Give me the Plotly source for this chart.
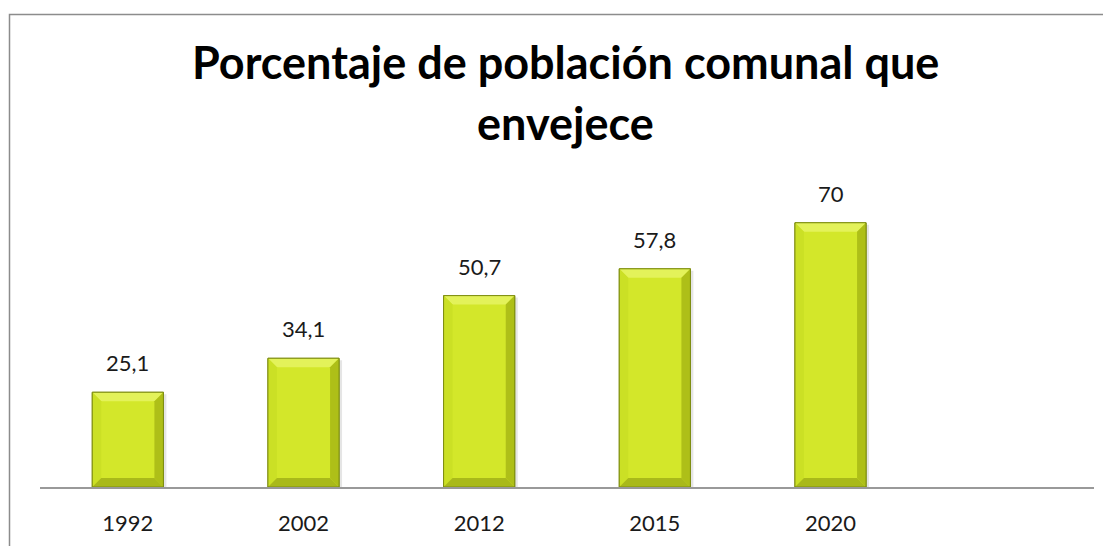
import plotly.graph_objects as go

years = ['1992', '2002', '2012', '2015', '2020']
values = [25.1, 34.1, 50.7, 57.8, 70]
labels = [str(v).replace('.', ',') for v in values]
title_lines = ['Porcentaje de población comunal que', 'envejece']

# the page body adds an 8px margin, so everything is placed 8px up/left
W, H = 1111, 546
ML, MR, MT, MB = 32, 25, 177, 67
X_RANGE = [-0.5, 5.5]
Y_RANGE = [0, 80]
BAR_W = 0.405

PW, PH = W - ML - MR, H - MT - MB
px_x = (X_RANGE[1] - X_RANGE[0]) / PW
px_y = (Y_RANGE[1] - Y_RANGE[0]) / PH
bev = 9
bx, by = bev * px_x, bev * px_y

xs = list(range(len(years)))

fig = go.Figure()
fig.add_trace(go.Bar(
    x=xs, y=values, width=BAR_W,
    marker=dict(color='#d3e72a', line=dict(color='#7d8c12', width=1)),
    hoverinfo='skip', showlegend=False
))

shapes = []
def poly(pts, color):
    path = 'M ' + ' L '.join(f'{a},{b}' for a, b in pts) + ' Z'
    return dict(type='path', path=path, xref='x', yref='y',
                fillcolor=color, line=dict(width=0), layer='above')

for i, v in zip(xs, values):
    l, r = i - BAR_W / 2, i + BAR_W / 2
    # soft shadow
    shapes.append(dict(type='rect', xref='x', yref='y', x0=l + 2 * px_x, x1=r + 3 * px_x,
                       y0=0, y1=v - 2 * px_y, fillcolor='rgba(0,0,0,0.10)',
                       line=dict(width=0), layer='below'))
    shapes.append(poly([(l, v), (r, v), (r - bx, v - by), (l + bx, v - by)], '#e3f25a'))
    shapes.append(poly([(l, v), (l + bx, v - by), (l + bx, by), (l, 0)], '#cbe025'))
    shapes.append(poly([(r, v), (r - bx, v - by), (r - bx, by), (r, 0)], '#aebf18'))
    shapes.append(poly([(l, 0), (r, 0), (r - bx, by), (l + bx, by)], '#a9b91a'))
    shapes.append(dict(type='rect', xref='x', yref='y', x0=l, x1=r, y0=0, y1=v,
                       fillcolor='rgba(0,0,0,0)', line=dict(color='#7d8c12', width=1),
                       layer='above'))

# outer chart border
shapes.append(dict(type='rect', xref='paper', yref='paper',
                   x0=(1.5 - ML) / PW, x1=1.5,
                   y0=-0.8, y1=(H - MB - 6.5) / PH,
                   line=dict(color='#8c8c8c', width=1.5), fillcolor='rgba(0,0,0,0)'))

for i, v, t in zip(xs, values, labels):
    fig.add_annotation(x=i, y=v, text=t, showarrow=False, yanchor='bottom', yshift=14,
                       font=dict(family='Lato', size=22, color='#1a1a1a'))

# title lines, centres in figure pixels
title_y = [54, 115]
for t, ty in zip(title_lines, title_y):
    fig.add_annotation(xref='paper', yref='paper', x=(557.5 - ML) / PW,
                       y=(H - MB - ty) / PH, text=f'<b>{t}</b>', showarrow=False,
                       xanchor='center', yanchor='middle',
                       font=dict(family='Lato', size=45, color='#000000'))

fig.update_layout(
    width=W, height=H,
    margin=dict(l=ML, r=MR, t=MT, b=MB),
    paper_bgcolor='white', plot_bgcolor='white',
    shapes=shapes,
    xaxis=dict(range=X_RANGE, tickvals=xs, ticktext=years, showgrid=False,
               zeroline=False, showline=True, linecolor='#999999', linewidth=2,
               ticks='', ticklabelstandoff=16,
               tickfont=dict(family='Lato', size=22, color='#1a1a1a')),
    yaxis=dict(range=Y_RANGE, visible=False, showgrid=False, zeroline=False),
)

fig.write_html('out.html')
